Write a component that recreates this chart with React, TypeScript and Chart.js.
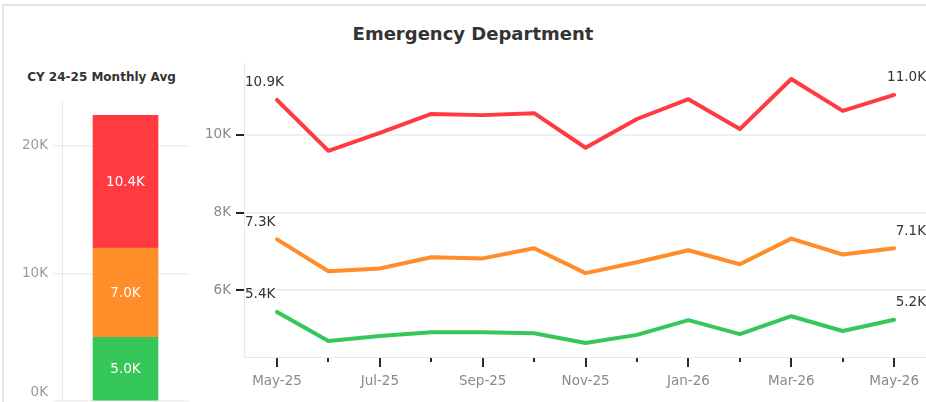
import React, { useEffect, useRef } from 'react';
import { Chart, registerables } from 'chart.js';

Chart.register(...registerables);

// ---- data (values in thousands) ----
const months = ['May-25', 'Jun-25', 'Jul-25', 'Aug-25', 'Sep-25', 'Oct-25', 'Nov-25', 'Dec-25', 'Jan-26', 'Feb-26', 'Mar-26', 'Apr-26', 'May-26'];
const redSeries = [10.9, 9.59, 10.05, 10.54, 10.51, 10.56, 9.67, 10.41, 10.92, 10.15, 11.44, 10.62, 11.03];
const orangeSeries = [7.31, 6.49, 6.56, 6.85, 6.82, 7.08, 6.44, 6.72, 7.03, 6.67, 7.33, 6.92, 7.08];
const greenSeries = [5.44, 4.69, 4.82, 4.92, 4.92, 4.89, 4.64, 4.85, 5.23, 4.87, 5.33, 4.95, 5.24];
const lineYTicks = [6, 8, 10];

const avgCategory = ['CY 24-25'];
const avgGreen = [5.0];
const avgOrange = [7.0];
const avgRed = [10.4];
const barYTicks = [0, 10, 20];

const RED = '#FF3A40';
const ORANGE = '#FF8D2A';
const GREEN = '#36C75A';
const FONT = '"DejaVu Sans", sans-serif';

const fmtK = (v: number) => `${v.toFixed(1)}K`;

export default function App() {
  const lineRef = useRef<HTMLCanvasElement | null>(null);
  const barRef = useRef<HTMLCanvasElement | null>(null);

  useEffect(() => {
    if (!lineRef.current || !barRef.current) return;

    const xTickMarks = {
      id: 'xTickMarks',
      afterDraw(chart: any) {
        const ctx = chart.ctx;
        const xs = chart.scales.x;
        const bottom = chart.chartArea.bottom;
        ctx.save();
        ctx.strokeStyle = '#2a2a2a';
        ctx.lineWidth = 2;
        months.forEach((_, i) => {
          const x = Math.round(xs.getPixelForValue(i));
          const len = i % 2 === 0 ? 9 : 4;
          ctx.beginPath();
          ctx.moveTo(x, bottom + 1);
          ctx.lineTo(x, bottom + 1 + len);
          ctx.stroke();
        });
        ctx.restore();
      },
    };

    const endLabels = {
      id: 'endLabels',
      afterDatasetsDraw(chart: any) {
        const ctx = chart.ctx;
        const area = chart.chartArea;
        ctx.save();
        ctx.font = `13.5px ${FONT}`;
        ctx.fillStyle = '#333333';
        ctx.textBaseline = 'middle';
        chart.data.datasets.forEach((ds: any, di: number) => {
          const meta = chart.getDatasetMeta(di);
          const first = meta.data[0];
          const last = meta.data[meta.data.length - 1];
          const v0 = ds.data[0].y;
          const v1 = ds.data[ds.data.length - 1].y;
          ctx.textAlign = 'left';
          ctx.fillText(fmtK(v0), area.left + 1, first.y - 17);
          ctx.textAlign = 'right';
          ctx.fillText(fmtK(v1), area.right, last.y - 17);
        });
        ctx.restore();
      },
    };

    const toPts = (arr: number[]) => arr.map((y, i) => ({ x: i, y }));

    const lineChart = new Chart(lineRef.current, {
      type: 'line',
      data: {
        datasets: [
          { label: 'Red', data: toPts(redSeries), borderColor: RED, backgroundColor: RED },
          { label: 'Orange', data: toPts(orangeSeries), borderColor: ORANGE, backgroundColor: ORANGE },
          { label: 'Green', data: toPts(greenSeries), borderColor: GREEN, backgroundColor: GREEN },
        ],
      },
      options: {
        animation: false,
        responsive: false,
        devicePixelRatio: 1,
        layout: { padding: { top: 12, right: 0, left: 0, bottom: 0 } },
        elements: {
          line: { borderWidth: 4, tension: 0, borderJoinStyle: 'round', borderCapStyle: 'round' },
          point: { radius: 0, hoverRadius: 0 },
        },
        plugins: { legend: { display: false }, tooltip: { enabled: false }, title: { display: false } },
        scales: {
          x: {
            type: 'linear',
            min: -0.642,
            max: 12.62,
            afterBuildTicks: (s: any) => {
              s.ticks = months.map((_, i) => ({ value: i }));
            },
            afterFit: (s: any) => {
              s.height = 45;
            },
            grid: { display: false, drawTicks: true, tickLength: 16 },
            border: { display: true, color: '#e8e8e8', width: 1 },
            ticks: {
              autoSkip: false,
              maxRotation: 0,
              padding: 0,
              color: '#8a8a8a',
              font: { family: FONT, size: 13.5 },
              callback: (v: any) => {
                const i = Math.round(Number(v));
                return i % 2 === 0 ? months[i] : '';
              },
            },
          },
          y: {
            min: 4.28,
            max: 11.85,
            afterBuildTicks: (s: any) => {
              s.ticks = lineYTicks.map((v) => ({ value: v }));
            },
            afterFit: (s: any) => {
              s.width = 54;
            },
            grid: { color: '#efefef', lineWidth: 2, tickLength: 8, tickColor: '#222222', tickWidth: 2 },
            border: { display: true, color: '#e8e8e8', width: 1 },
            ticks: {
              padding: 5,
              color: '#8a8a8a',
              font: { family: FONT, size: 13.5 },
              callback: (v: any) => `${v}K`,
            },
          },
        },
      },
      plugins: [xTickMarks, endLabels],
    } as any);

    const barLabels = {
      id: 'barLabels',
      afterDatasetsDraw(chart: any) {
        const ctx = chart.ctx;
        ctx.save();
        ctx.font = `13.5px ${FONT}`;
        ctx.fillStyle = '#ffffff';
        ctx.textAlign = 'center';
        ctx.textBaseline = 'middle';
        chart.data.datasets.forEach((ds: any, di: number) => {
          const meta = chart.getDatasetMeta(di);
          meta.data.forEach((el: any, i: number) => {
            const yc = (el.y + el.base) / 2;
            ctx.fillText(fmtK(ds.data[i]), el.x, yc + 1);
          });
        });
        ctx.restore();
      },
    };

    const barYLabels = {
      id: 'barYLabels',
      afterDraw(chart: any) {
        const ctx = chart.ctx;
        const ys = chart.scales.y;
        const area = chart.chartArea;
        ctx.save();
        ctx.font = `13.5px ${FONT}`;
        ctx.fillStyle = '#9a9a9a';
        ctx.textAlign = 'right';
        ctx.textBaseline = 'middle';
        barYTicks.forEach((v) => {
          const y = Math.min(ys.getPixelForValue(v), area.bottom - 9);
          ctx.fillText(`${v}K`, area.left - 14, y);
        });
        ctx.restore();
      },
    };

    const barChart = new Chart(barRef.current, {
      type: 'bar',
      data: {
        labels: avgCategory,
        datasets: [
          { label: 'Green', data: avgGreen, backgroundColor: GREEN },
          { label: 'Orange', data: avgOrange, backgroundColor: ORANGE },
          { label: 'Red', data: avgRed, backgroundColor: RED },
        ],
      },
      options: {
        animation: false,
        responsive: false,
        devicePixelRatio: 1,
        layout: { padding: { top: 2, right: 1, bottom: 1, left: 0 } },
        datasets: { bar: { barThickness: 65, borderWidth: 0 } },
        plugins: { legend: { display: false }, tooltip: { enabled: false }, title: { display: false } },
        scales: {
          x: { stacked: true, display: false },
          y: {
            stacked: true,
            min: 0,
            max: 23.45,
            afterBuildTicks: (s: any) => {
              s.ticks = barYTicks.map((v) => ({ value: v }));
            },
            afterFit: (s: any) => {
              s.width = 62;
            },
            grid: { color: '#efefef', lineWidth: 1.5, tickLength: 9, tickColor: '#efefef' },
            border: { display: true, color: '#e8e8e8', width: 1 },
            ticks: { display: false },
          },
        },
      },
      plugins: [barLabels, barYLabels],
    } as any);

    return () => {
      lineChart.destroy();
      barChart.destroy();
    };
  }, []);

  return (
    <div
      style={{
        position: 'absolute',
        left: 0,
        top: 0,
        width: 926,
        height: 402,
        overflow: 'hidden',
        background: '#ffffff',
        fontFamily: FONT,
      }}
    >
      <div
        style={{
          position: 'absolute',
          left: 2,
          top: 4,
          width: 930,
          height: 400,
          borderTop: '2px solid #e2e2e2',
          borderLeft: '2px solid #e2e2e2',
        }}
      />
      <div
        style={{
          position: 'absolute',
          left: 20,
          top: 22,
          width: 906,
          textAlign: 'center',
          fontSize: 18,
          fontWeight: 'bold',
          color: '#333333',
          lineHeight: '24px',
        }}
      >
        Emergency Department
      </div>
      <div
        style={{
          position: 'absolute',
          left: 0,
          top: 69,
          width: 203,
          textAlign: 'center',
          fontSize: 12,
          fontWeight: 'bold',
          color: '#333333',
          lineHeight: '16px',
        }}
      >
        CY 24-25 Monthly Avg
      </div>
      <canvas
        ref={barRef}
        width={190}
        height={302}
        style={{ position: 'absolute', left: 0, top: 100, width: 190, height: 302 }}
      />
      <canvas
        ref={lineRef}
        width={736}
        height={352}
        style={{ position: 'absolute', left: 190, top: 50, width: 736, height: 352 }}
      />
    </div>
  );
}
